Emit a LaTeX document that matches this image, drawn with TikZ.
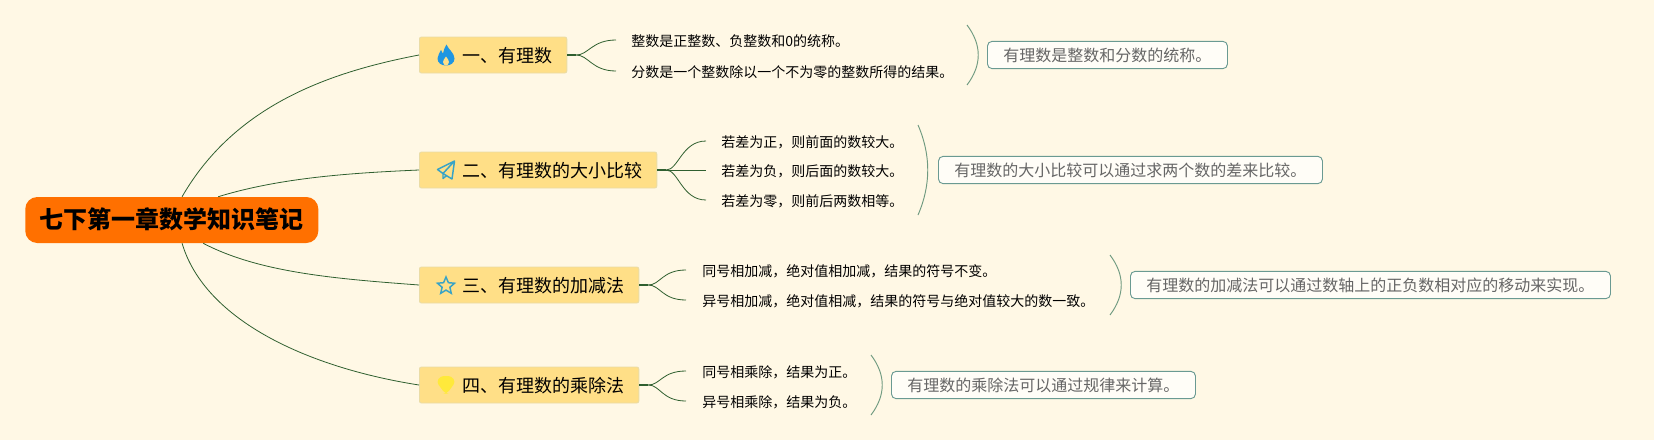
\documentclass[tikz,border=0pt]{standalone}
\usepackage{fontspec}
\usetikzlibrary{calc,shapes.geometric}
\setmainfont{Noto Sans CJK SC}
\definecolor{bgc}{HTML}{FFF8E5}
\definecolor{rootc}{HTML}{FF7000}
\definecolor{branchc}{HTML}{FFDF87}
\definecolor{branchb}{HTML}{EADCA6}
\definecolor{linec}{HTML}{2F5F2F}
\definecolor{bracec}{HTML}{6F9A80}
\definecolor{noteb}{HTML}{6A9A92}
\definecolor{notet}{HTML}{666666}
\definecolor{flamec}{HTML}{1F96E2}
\definecolor{planec}{HTML}{38A3C6}
\definecolor{gemc}{HTML}{FFE93B}
\tikzset{
  rootbox/.style={anchor=west, fill=rootc, rounded corners=9pt, font=\fontsize{18}{20}\selectfont\bfseries,
    text=black, text height=1.42em, text depth=0.18em, inner xsep=10.9pt, inner ysep=0pt, minimum height=34.5pt},
  branchbox/.style={anchor=west, fill=branchc, draw=branchb, line width=0.7pt, rounded corners=1.5pt,
    font=\fontsize{13.5}{16}\selectfont, text=black, text height=1.28em, text depth=0.18em,
    inner ysep=0pt, inner xsep=0pt, minimum height=27pt, align=left},
  leaf/.style={anchor=west, font=\fontsize{10.5}{13}\selectfont, text=black, text height=1.12em, text depth=0.18em,
    inner ysep=0pt, inner xsep=0pt},
  notebox/.style={anchor=west, fill=white!70!bgc, draw=noteb, line width=0.7pt, rounded corners=3.5pt,
    font=\fontsize{12}{14}\selectfont, text=notet, text height=1.08em, text depth=0.18em,
    inner xsep=12pt, inner ysep=0pt, minimum height=20.5pt},
  mainlink/.style={draw=linec, line width=0.6pt},
  sublink/.style={draw=linec, line width=0.6pt},
  stem/.style={draw=linec, line width=1.3pt},
  bracket/.style={draw=bracec, line width=0.7pt},
}
\newcommand{\branchtext}[1]{\hspace*{32.2pt}#1\hspace*{10.8pt}}
\begin{document}
\begin{tikzpicture}[x=0.75pt,y=-0.75pt]
\fill[bgc] (0,0) rectangle (1654,440);
\useasboundingbox (0,0) rectangle (1654,440);

% root
\node[rootbox] (root) at (25,220) {七下第一章数学知识笔记};

% branches
\node[branchbox] (b1) at (419,55)  {\branchtext{一、有理数}};
\node[branchbox] (b2) at (419,170) {\branchtext{二、有理数的大小比较}};
\node[branchbox] (b3) at (419,285) {\branchtext{三、有理数的加减法}};
\node[branchbox] (b4) at (419,385) {\branchtext{四、有理数的乘除法}};

% icons
\begin{scope}[shift={(446,55)}]
  \fill[flamec] (0.5,-10.5) .. controls (2,-6) and (8.5,-2) .. (8.5,3.5)
    .. controls (8.5,8) and (4.5,10.5) .. (0,10.5)
    .. controls (-4.5,10.5) and (-8.5,8) .. (-8.5,3.5)
    .. controls (-8.5,0) and (-6,-2) .. (-5,-5)
    .. controls (-4,-3) and (-3.5,-2) .. (-3,-1.5)
    .. controls (-2.5,-5) and (-1,-8) .. (0.5,-10.5) -- cycle;
  \fill[branchc] (0,1.5) .. controls (1.5,4) and (3,5) .. (3,7)
    .. controls (3,9.5) and (1,10.5) .. (0,10.5)
    .. controls (-1,10.5) and (-3,9.5) .. (-3,7)
    .. controls (-3,5) and (-1.5,4) .. (0,1.5) -- cycle;
\end{scope}
\begin{scope}[shift={(446,170)}]
  \draw[planec, line width=1.1pt, line join=round]
    (8.5,-9) -- (-8.5,-0.5) -- (-3,3.5) -- (8.5,-9) -- (6,9) -- (-3,3.5) -- (-3,8.5) -- (0.5,5.7);
\end{scope}
\node[star, star points=5, star point ratio=2.2, draw=planec, line width=1.1pt, inner sep=0pt, minimum size=13.5pt] (s3) at (446,286) {};
\begin{scope}[shift={(446,385)}]
  \fill[gemc, rounded corners=2.5pt] (-5.5,-9) -- (5.5,-9) -- (9.5,-3) -- (1,8.5) -- (-1,8.5) -- (-9.5,-3) -- cycle;
\end{scope}

% leaves
\node[leaf] (l11) at (616,40) {\hspace*{11.3pt}整数是正整数、负整数和0的统称。};
\node[leaf] (l12) at (616,71) {\hspace*{11.3pt}分数是一个整数除以一个不为零的整数所得的结果。};
\node[leaf] (l21) at (706,141) {\hspace*{11.3pt}若差为正，则前面的数较大。};
\node[leaf] (l22) at (706,170) {\hspace*{11.3pt}若差为负，则后面的数较大。};
\node[leaf] (l23) at (706,200) {\hspace*{11.3pt}若差为零，则前后两数相等。};
\node[leaf] (l31) at (686,270) {\hspace*{12pt}同号相加减，绝对值相加减，结果的符号不变。};
\node[leaf] (l32) at (686,300) {\hspace*{12pt}异号相加减，绝对值相减，结果的符号与绝对值较大的数一致。};
\node[leaf] (l41) at (686,371) {\hspace*{12pt}同号相乘除，结果为正。};
\node[leaf] (l42) at (686,401) {\hspace*{12pt}异号相乘除，结果为负。};

% notes
\node[notebox] (n1) at (987,55)  {有理数是整数和分数的统称。};
\node[notebox] (n2) at (938,170) {有理数的大小比较可以通过求两个数的差来比较。};
\node[notebox] (n3) at (1130,285) {有理数的加减法可以通过数轴上的正负数相对应的移动来实现。};
\node[notebox] (n4) at (891,385) {有理数的乘除法可以通过规律来计算。};

% root links
\draw[mainlink] ($(root.north west)!0.535!(root.north east)$) .. controls +(53,-92) and +(-89,17) .. (b1.west);
\draw[mainlink] ($(root.north west)!0.658!(root.north east)$) .. controls +(62,-19) and +(-69,3) .. (b2.west);
\draw[mainlink] ($(root.south west)!0.607!(root.south east)$) .. controls +(57,30) and +(-79,-6) .. (b3.west);
\draw[mainlink] ($(root.south west)!0.535!(root.south east)$) .. controls +(23,78) and +(-109,-17) .. (b4.west);

% sub links
\foreach \b/\l in {b1/l11,b1/l12,b2/l21,b2/l23,b3/l31,b3/l32,b4/l41,b4/l42}{
  \draw[stem] (\b.east) -- ++(9,0);
  \draw[sublink] (\b.east) ++(9,0) .. controls +(12,0) and ($(\l.west)+(-24,0)$) .. (\l.west);
}
\draw[stem] (b2.east) -- ++(9,0);
\draw[sublink] (b2.east) -- (l22.west);

% summary brackets
\coordinate (t1) at (967,25);  \coordinate (e1) at (967,85);
\coordinate (t2) at (918,125); \coordinate (e2) at (918,215);
\coordinate (t3) at (1110,255); \coordinate (e3) at (1110,315);
\coordinate (t4) at (871,355); \coordinate (e4) at (871,415);
\draw[bracket] (t1) .. controls +(15,20) and +(15,-20) .. (e1);
\draw[bracket] (t2) .. controls +(13,30) and +(13,-30) .. (e2);
\draw[bracket] (t3) .. controls +(15,20) and +(15,-20) .. (e3);
\draw[bracket] (t4) .. controls +(15,20) and +(15,-20) .. (e4);
\end{tikzpicture}
\end{document}
